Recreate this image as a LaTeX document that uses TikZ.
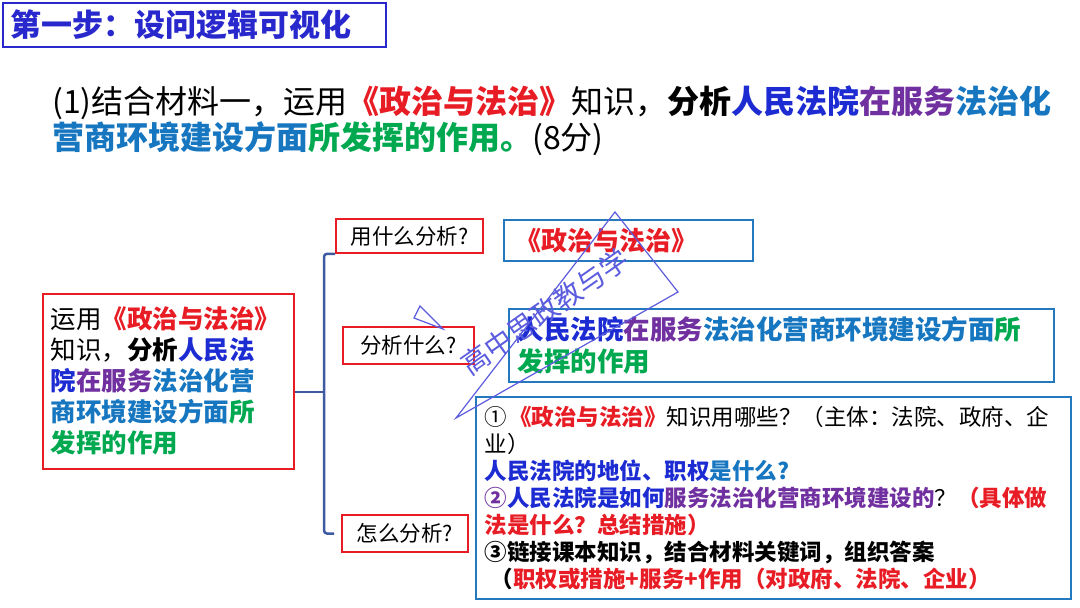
\documentclass[tikz,border=0pt]{standalone}
\usepackage{fontspec}
\setmainfont{Noto Sans CJK SC}
\usetikzlibrary{positioning}

\definecolor{titleblue}{RGB}{40,40,205}
\definecolor{myred}{RGB}{232,28,36}
\definecolor{myblue}{RGB}{28,44,210}
\definecolor{mypurple}{RGB}{112,48,160}
\definecolor{myteal}{RGB}{22,118,192}
\definecolor{mygreen}{RGB}{0,168,80}
\definecolor{boxblue}{RGB}{36,120,190}
\definecolor{bracecol}{RGB}{62,90,160}
\definecolor{wmark}{RGB}{92,92,222}

\newcommand{\hred}[1]{{\bfseries\color{myred}#1}}
\newcommand{\hblue}[1]{{\bfseries\color{myblue}#1}}
\newcommand{\hpurp}[1]{{\bfseries\color{mypurple}#1}}
\newcommand{\hteal}[1]{{\bfseries\color{myteal}#1}}
\newcommand{\hgreen}[1]{{\bfseries\color{mygreen}#1}}

\tikzset{
  askbox/.style={draw=myred, line width=1.6pt, inner sep=0pt,
    font=\fontsize{21.5}{24}\selectfont},
  ansbox/.style={draw=boxblue, line width=1.6pt, anchor=north west,
    align=left, inner xsep=9pt, inner ysep=0pt},
  brace/.style={draw=bracecol, line width=2.5pt, rounded corners=3pt},
}

\begin{document}
\begin{tikzpicture}[x=1pt, y=-1pt]
\useasboundingbox (0,0) rectangle (1080,608);

% Title
\node[draw=titleblue, line width=1.8pt, anchor=north west, text width=367,
  minimum height=44, inner xsep=8pt, align=left, text=titleblue,
  font=\fontsize{31}{34}\selectfont\bfseries] (title) at (2,2)
  {第一步：设问逻辑可视化};

% Question
\node[anchor=north west, align=left, inner sep=0pt,
  font=\fontsize{32}{36}\selectfont] (quest) at (52,86)
  {(1)结合材料一，运用\hred{《政治与法治》}知识，\textbf{分析}\hblue{人民法院}\hpurp{在服务}\hteal{法治化}\\
   \hteal{营商环境建设方面}\hgreen{所发挥的作用。}(8分)};

% Left box
\node[draw=myred, line width=1.6pt, anchor=north west, text width=235,
  minimum height=175, inner xsep=8pt, align=left,
  font=\fontsize{25.5}{31}\selectfont] (task) at (42,293)
  {运用\hred{《政治与法治》}\\
   知识，\textbf{分析}\hblue{人民法}\\
   \hblue{院}\hpurp{在服务}\hteal{法治化营}\\
   \hteal{商环境建设方面}\hgreen{所}\\
   \hgreen{发挥的作用}};

% Questions
\node[askbox, minimum width=147, minimum height=34] (ask1) at (409.5,236) {用什么分析?};
\node[askbox, minimum width=131, minimum height=37] (ask2) at (408.5,345.5) {分析什么?};
\node[askbox, minimum width=126, minimum height=37] (ask3) at (405,533.5) {怎么分析?};

% Brace
\coordinate (bk) at (324,392);
\draw[brace] (task.east |- bk) -- (bk);
\draw[brace] (ask1.south west) -| (bk) |- ([xshift=-7pt]ask3.west);

% Answers
\node[ansbox, text width=225, minimum height=41, inner xsep=12pt,
  font=\fontsize{26}{30}\selectfont] (ans1) at (503,219)
  {\hred{《政治与法治》}};

\node[ansbox, text width=527, minimum height=73,
  font=\fontsize{26.5}{32}\selectfont] (ans2) at (508,308)
  {\hblue{人民法院}\hpurp{在服务}\hteal{法治化营商环境建设方面}\hgreen{所}\\
   \hgreen{发挥的作用}};

\node[ansbox, text width=577, minimum height=202,
  font=\fontsize{22.5}{27}\selectfont] (ans3) at (475,396)
  {①\hspace{2pt}\hred{《政治与法治》}知识用哪些？（主体：法院、政府、企\\
   业）\\
   \hblue{人民法院的地位、职权}\hteal{是什么?}\\
   {\bfseries\color{mypurple}②}\hblue{人民法院是如何}\hpurp{服务法治化营商环境建设的}？\hred{（具体做}\\
   \hred{法是什么？总结措施）}\\
   \textbf{③链接课本知识，结合材料关键词，组织答案}\\
   \hspace{6pt}\textbf{（}\hred{职权或措施+服务+作用（对政府、法院、企业）}};

% Watermark
\draw[wmark, line width=1.2pt] (456,418) -- (615,212) -- (678,292) -- cycle;
\draw[wmark, line width=1.2pt] (420,306) -- (443,329) -- (414,318) -- cycle;
\node[rotate=35, text=wmark, font=\fontsize{28}{28}\selectfont] (wm) at (545,312) {高中思政教与学};

\end{tikzpicture}
\end{document}
